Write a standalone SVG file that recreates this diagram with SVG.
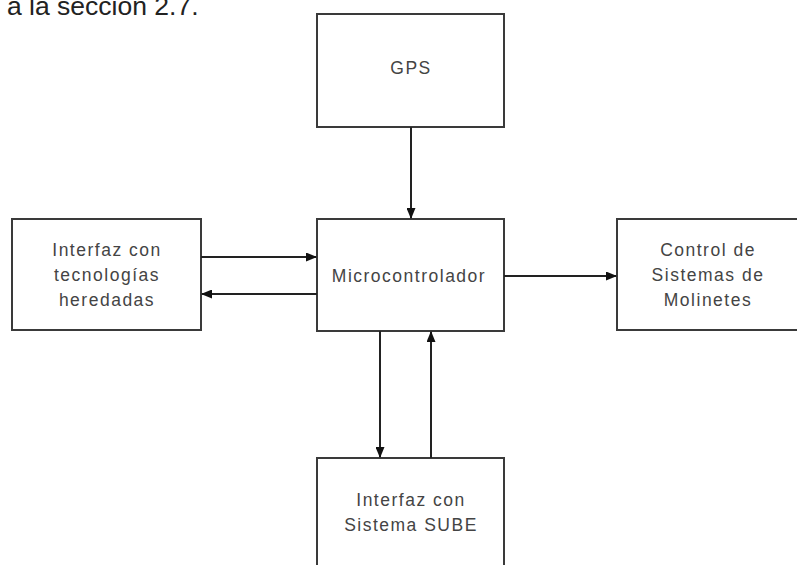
<svg xmlns="http://www.w3.org/2000/svg" width="797" height="565" viewBox="0 0 797 565">
<style>
.box{fill:#fff;stroke:#3a3a3a;stroke-width:2}
.lbl{font-family:"Liberation Sans",Arial,sans-serif;font-size:17.5px;fill:#444;text-anchor:middle;letter-spacing:1.5px}
.con{stroke:#222;stroke-width:2;fill:none;marker-end:url(#ah)}
.top{font-family:"Liberation Sans",Arial,sans-serif;font-size:26.5px;fill:#222}
</style>
<defs>
<marker id="ah" markerWidth="11" markerHeight="9" refX="10" refY="4.5" orient="auto" markerUnits="userSpaceOnUse">
<path d="M0,0 L11,4.5 L0,9 Z" fill="#111"/>
</marker>
</defs>
<rect width="797" height="565" fill="#fff"/>
<text class="top" x="7" y="15">a la sección 2.7.</text>
<g id="gps">
<rect class="box" x="317" y="14" width="187" height="113"/>
<text class="lbl" x="411" y="74">GPS</text>
</g>
<g id="micro">
<rect class="box" x="317" y="219" width="187" height="112"/>
<text class="lbl" x="409" y="282">Microcontrolador</text>
</g>
<g id="legacy">
<rect class="box" x="12" y="219" width="189" height="111"/>
<text class="lbl" x="107" y="256">Interfaz con</text>
<text class="lbl" x="107" y="281">tecnologías</text>
<text class="lbl" x="107" y="306">heredadas</text>
</g>
<g id="molinetes">
<rect class="box" x="617" y="219" width="190" height="111"/>
<text class="lbl" x="708" y="256">Control de</text>
<text class="lbl" x="708" y="281">Sistemas de</text>
<text class="lbl" x="708" y="306">Molinetes</text>
</g>
<g id="sube">
<rect class="box" x="317" y="458" width="187" height="120"/>
<text class="lbl" x="411" y="506">Interfaz con</text>
<text class="lbl" x="411" y="531">Sistema SUBE</text>
</g>
<g id="connectors">
<line class="con" x1="411" y1="127" x2="411" y2="218"/>
<line class="con" x1="201" y1="257" x2="316" y2="257"/>
<line class="con" x1="317" y1="294" x2="202" y2="294"/>
<line class="con" x1="504" y1="276" x2="616" y2="276"/>
<line class="con" x1="380" y1="331" x2="380" y2="457"/>
<line class="con" x1="431" y1="458" x2="431" y2="332"/>
</g>
</svg>
